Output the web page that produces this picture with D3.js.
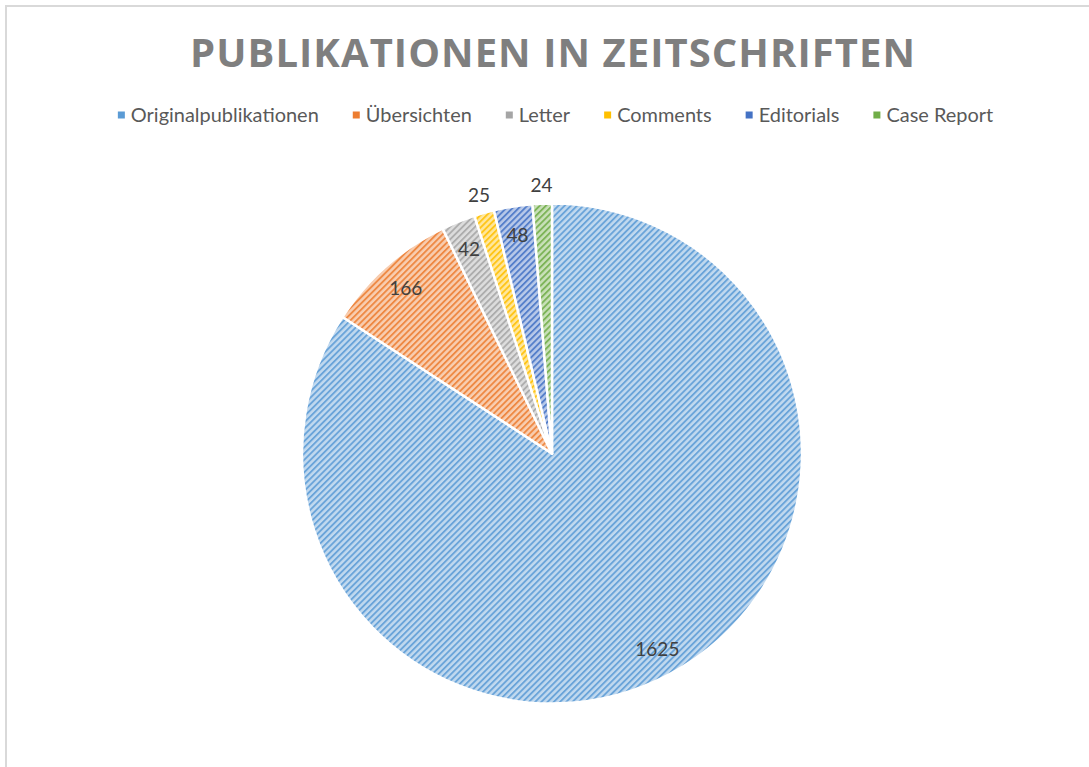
<!DOCTYPE html>
<html><head><meta charset="utf-8">
<script src="https://cdn.jsdelivr.net/npm/d3@7"></script>
<style>html,body{margin:0;padding:0;background:#fff}svg{display:block}</style>
</head><body>
<script>
const categories = ["Originalpublikationen","Übersichten","Letter","Comments","Editorials","Case Report"];
const values = [1625,166,42,25,48,24];
const colors = ["#5B9BD5","#ED7D31","#A5A5A5","#FFC000","#4472C4","#70AD47"];
const title = "PUBLIKATIONEN IN ZEITSCHRIFTEN";

const W = 1089, H = 767;
const svg = d3.select("body").append("svg").attr("width", W).attr("height", H);
svg.append("rect").attr("width", W).attr("height", H).attr("fill", "#fff");
// chart border (top and left visible)
svg.append("path").attr("d", `M6,${H} L6,6 L${W},6`).attr("fill","none").attr("stroke","#d9d9d9").attr("stroke-width",2);

const defs = svg.append("defs");
colors.forEach((c, i) => {
  const bg = d3.interpolateRgb(c, "#ffffff")(0.62);
  const p = defs.append("pattern").attr("id", "pat" + i)
    .attr("patternUnits", "userSpaceOnUse").attr("width", 4.4).attr("height", 4.4)
    .attr("patternTransform", "rotate(45)");
  p.append("rect").attr("width", 4.4).attr("height", 4.4).attr("fill", bg);
  p.append("rect").attr("x", 0).attr("width", 1.9).attr("height", 4.4).attr("fill", c).attr("opacity", 0.85);
});

// Title
svg.append("text").attr("x", 552.5).attr("y", 67).attr("text-anchor", "middle")
  .attr("font-family", "Open Sans, sans-serif").attr("font-weight", "bold")
  .attr("font-size", 40).attr("fill", "#7f7f7f")
  .attr("textLength", 725).attr("lengthAdjust", "spacing")
  .text(title);

// Legend
const lg = svg.append("g");
const fs = 18;
const items = lg.selectAll("g").data(categories).join("g");
items.append("rect").attr("width", 7).attr("height", 7).attr("y", -10.5)
  .attr("fill", (d, i) => colors[i]);
const texts = items.append("text").attr("x", 13).attr("y", 0)
  .attr("font-family", "Lato, sans-serif").attr("font-size", fs).attr("fill", "#595959")
  .text(d => d);
// scale font so first label matches reference width
const w0 = texts.nodes()[0].getComputedTextLength();
const fs2 = fs * 188 / w0;
texts.attr("font-size", fs2);
let xx = 0;
const positions = [];
texts.each(function (d, i) { positions.push(xx); xx += 13 + this.getComputedTextLength() + 34; });
const totalW = xx - 34;
const startX = 552.5 - totalW / 2 + 3;
items.attr("transform", (d, i) => `translate(${startX + positions[i]},122)`);

// Pie
const cx = 552, cy = 453.5, R = 250;
const total = d3.sum(values);
const pie = d3.pie().sort(null).value(d => d);
const arcs = pie(values);
const arc = d3.arc().innerRadius(0).outerRadius(R);
const g = svg.append("g").attr("transform", `translate(${cx},${cy})`);
g.selectAll("path").data(arcs).join("path")
  .attr("d", arc)
  .attr("fill", (d, i) => `url(#pat${i})`)
  .attr("stroke", "#fff").attr("stroke-width", 2.5).attr("stroke-linejoin", "round");

g.selectAll("text.lbl").data(arcs).join("text").attr("class", "lbl")
  .each(function (d) {
    const a = (d.startAngle + d.endAngle) / 2;
    const small = (d.endAngle - d.startAngle) < 5 * Math.PI / 180;
    const r = small ? R * 1.075 : R * 0.885;
    d3.select(this).attr("x", Math.sin(a) * r).attr("y", -Math.cos(a) * r);
  })
  .attr("text-anchor", "middle").attr("dominant-baseline", "central")
  .attr("font-family", "Lato, sans-serif").attr("font-size", 19).attr("fill", "#404040")
  .text(d => d.data);
</script>
</body></html>
